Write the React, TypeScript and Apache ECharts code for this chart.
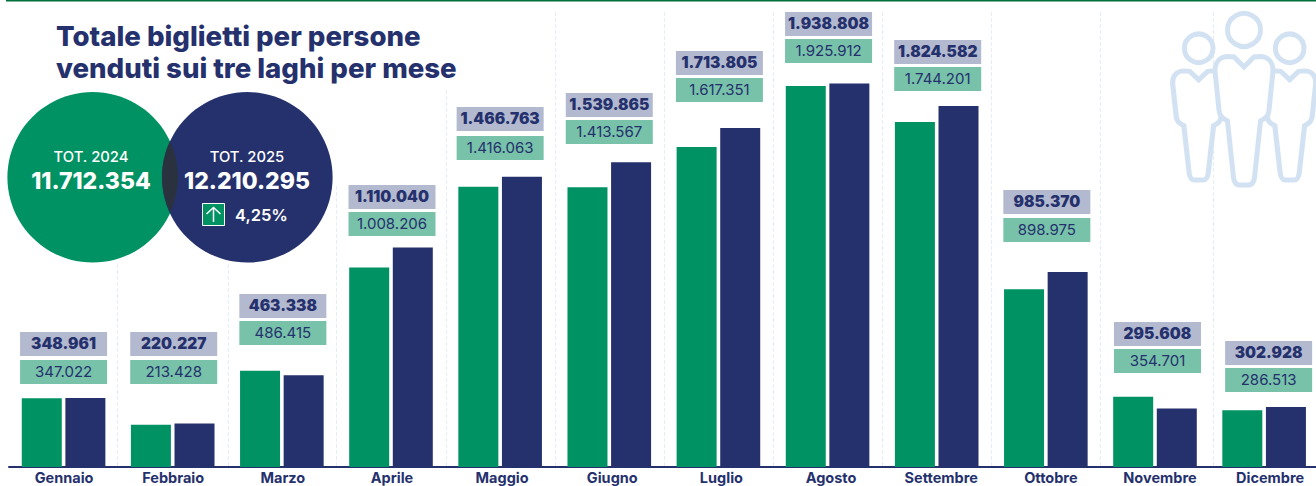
import React, { useEffect, useRef } from "react";
import * as echarts from "echarts";

const months = ["Gennaio", "Febbraio", "Marzo", "Aprile", "Maggio", "Giugno", "Luglio", "Agosto", "Settembre", "Ottobre", "Novembre", "Dicembre"];
const tickets2024 = [347022, 213428, 486415, 1008206, 1416063, 1413567, 1617351, 1925912, 1744201, 898975, 354701, 286513];
const tickets2025 = [348961, 220227, 463338, 1110040, 1466763, 1539865, 1713805, 1938808, 1824582, 985370, 295608, 302928];
const total2024 = "11.712.354";
const total2025 = "12.210.295";
const growth = "4,25%";

// Top edge of each month's pair of value boxes, in pixels
const upperBoxTop = [332, 332, 294, 185, 107, 93, 51, 12, 40, 190, 322, 341];
const lowerBoxTop = [360, 360, 321, 212, 136, 120, 78, 39, 67, 218, 349, 368];
// Horizontal nudge of value boxes, month names and left separators from the regular category grid
const boxDrift = [0, 1, 1, 1, 0, 0, 1, 1, 1, 1, 2.5, 4.5];
const nameDrift = [0.5, 0.5, 1, 1, 2, 3, 3, 3.5, 4.5, 5, 5, 6];
const separatorDrift = [0, -1, 1, 0, 0, 0, 0, 0, 0, 0, 0, 3.5];

const GREEN = "#009262";
const NAVY = "#25316d";
const FONT = "Inter, 'Noto Sans', sans-serif";
const ICON_BLUE = "#d3e2f3";

const fmt = (v: number) => String(v).replace(/\B(?=(\d{3})+$)/g, ".");

// Overlap of the two total circles
echarts.graphic.registerShape(
  "lens",
  echarts.graphic.extendPath("M170 141 A85.3 85.3 0 0 1 170 213 A85.3 85.3 0 0 1 170 141 Z", {})
);
// Outline of a person, drawn around a local origin at the centre of the head
echarts.graphic.registerShape(
  "personBody",
  echarts.graphic.extendPath(
    "M0 37 L-10 27 L-16 26.5 C-24 26.5 -29 32 -29 41 L-25 80 C-24.5 86 -22 88 -16.5 91 L-11 143 C-10.5 151 -9 155 -5 155 L5 155 C9 155 10.5 151 11 143 L16.5 91 C22 88 24.5 86 25 80 L29 41 C29 32 24 26.5 16 26.5 L10 27 Z",
    {}
  )
);

const box = (x: number, y: number, fill: string, text: string, weight: number, size: number) => [
  { type: "rect", shape: { x, y, width: 87, height: 24 }, style: { fill } },
  {
    type: "text",
    style: { x: x + 43.5, y: y + 11.5, text, fill: NAVY, font: `${weight} ${size}px ${FONT}`, align: "center", verticalAlign: "middle" },
  },
];

const person = (cx: number, cy: number, r: number, sx: number, sy: number) => [
  { type: "personBody", x: cx, y: cy, scaleX: sx, scaleY: sy, z: 7, style: { fill: "#fff", stroke: ICON_BLUE, lineWidth: 5, strokeNoScale: true } },
  { type: "circle", shape: { cx, cy, r }, z: 7, style: { fill: "#fff", stroke: ICON_BLUE, lineWidth: 5 } },
];

export default function App() {
  const ref = useRef<HTMLDivElement>(null);
  useEffect(() => {
    document.body.style.margin = "0";
    const chart = echarts.init(ref.current!, undefined, { renderer: "svg" });
    chart.setOption({
      animation: false,
      backgroundColor: "#fff",
      grid: { left: 9, top: 12, width: 1309.7, height: 455, containLabel: false, outerBoundsMode: "none" },
      xAxis: {
        type: "category",
        data: months,
        axisLine: { lineStyle: { color: NAVY, width: 2 } },
        axisTick: { show: false },
        axisLabel: { show: false },
        splitLine: { show: false },
      },
      yAxis: { type: "value", min: 0, max: 2300000, show: false, splitLine: { show: false } },
      series: [
        { type: "bar", name: "2024", data: tickets2024, barWidth: 40, barGap: "9%", z: 3, itemStyle: { color: GREEN } },
        { type: "bar", name: "2025", data: tickets2025, barWidth: 40, z: 3, itemStyle: { color: NAVY } },
        {
          type: "custom",
          data: months.map((_, i) => [i, tickets2025[i], tickets2024[i]]),
          encode: { x: 0, y: [1, 2] },
          clip: false,
          silent: true,
          z: 2,
          renderItem: (_p: any, api: any) => {
            const i = api.value(0);
            const c = api.coord([i, 0]);
            const x = c[0] - 43.5 + boxDrift[i];
            const sepX = Math.round(c[0] - 54.57 + separatorDrift[i]) + 0.5;
            return {
              type: "group",
              children: [
                ...(i > 0
                  ? [{
                      type: "line",
                      shape: { x1: sepX, y1: 12, x2: sepX, y2: 466 },
                      style: { stroke: "#e4edf8", lineWidth: 1, lineDash: [4, 2] },
                    }]
                  : []),
                ...box(x, upperBoxTop[i], "#b3b9cf", fmt(api.value(1)), 900, 15.5),
                ...box(x, lowerBoxTop[i], "#77c2a9", fmt(api.value(2)), 400, 15),
                {
                  type: "text",
                  style: { x: c[0] + nameDrift[i], y: 477.5, text: months[i], fill: NAVY, font: `700 14.5px ${FONT}`, align: "center", verticalAlign: "middle" },
                },
              ],
            };
          },
        },
      ],
      graphic: [
        // White mask hiding the dashed separators behind the header block
        { type: "rect", z: 5, shape: { x: 0, y: 2, width: 460, height: 88 }, style: { fill: "#fff" } },
        { type: "rect", z: 5, shape: { x: 0, y: 2, width: 340, height: 183 }, style: { fill: "#fff" } },
        { type: "rect", z: 5, shape: { x: 0, y: 2, width: 232, height: 260 }, style: { fill: "#fff" } },
        { type: "rect", z: 6, shape: { x: 6, y: 0, width: 1310, height: 1.5 }, style: { fill: "#00703c" } },
        ...person(1198.7, 48.3, 14.3, 0.9, 0.85),
        ...person(1289.7, 48.3, 14.3, 0.9, 0.85),
        ...person(1244, 30, 16.5, 1, 1),
        { type: "text", z: 8, style: { x: 56, y: 36, text: "Totale biglietti per persone", fill: NAVY, font: `800 27.6px ${FONT}`, verticalAlign: "middle" } },
        { type: "text", z: 8, style: { x: 56, y: 68, text: "venduti sui tre laghi per mese", fill: NAVY, font: `800 27.6px ${FONT}`, verticalAlign: "middle" } },
        { type: "circle", z: 8, shape: { cx: 92.7, cy: 177.3, r: 85.3 }, style: { fill: GREEN } },
        { type: "circle", z: 8, shape: { cx: 247.3, cy: 177.3, r: 85.3 }, style: { fill: NAVY } },
        { type: "lens", z: 9, style: { fill: "#2a3240" } },
        { type: "text", z: 10, style: { x: 91, y: 157, text: "TOT. 2024", fill: "#fff", font: `500 14.8px ${FONT}`, align: "center", verticalAlign: "middle" } },
        { type: "text", z: 10, style: { x: 91, y: 181, text: total2024, fill: "#fff", font: `800 23px ${FONT}`, align: "center", verticalAlign: "middle" } },
        { type: "text", z: 10, style: { x: 247, y: 157, text: "TOT. 2025", fill: "#fff", font: `500 14.8px ${FONT}`, align: "center", verticalAlign: "middle" } },
        { type: "text", z: 10, style: { x: 247, y: 181, text: total2025, fill: "#fff", font: `800 23px ${FONT}`, align: "center", verticalAlign: "middle" } },
        { type: "rect", z: 10, shape: { x: 202.5, y: 203.5, width: 22, height: 22 }, style: { fill: GREEN, stroke: "#fff", lineWidth: 1 } },
        { type: "polyline", z: 11, shape: { points: [[213.5, 222], [213.5, 208]] }, style: { stroke: "#fff", lineWidth: 1.5, fill: "none" } },
        { type: "polyline", z: 11, shape: { points: [[206.5, 214], [213.5, 207.5], [220.5, 214]] }, style: { stroke: "#fff", lineWidth: 1.5, fill: "none" } },
        { type: "text", z: 10, style: { x: 235, y: 214.5, text: growth, fill: "#fff", font: `600 16.5px ${FONT}`, verticalAlign: "middle" } },
      ],
    });
    return () => chart.dispose();
  }, []);
  return <div ref={ref} style={{ width: 1316, height: 486 }} />;
}
